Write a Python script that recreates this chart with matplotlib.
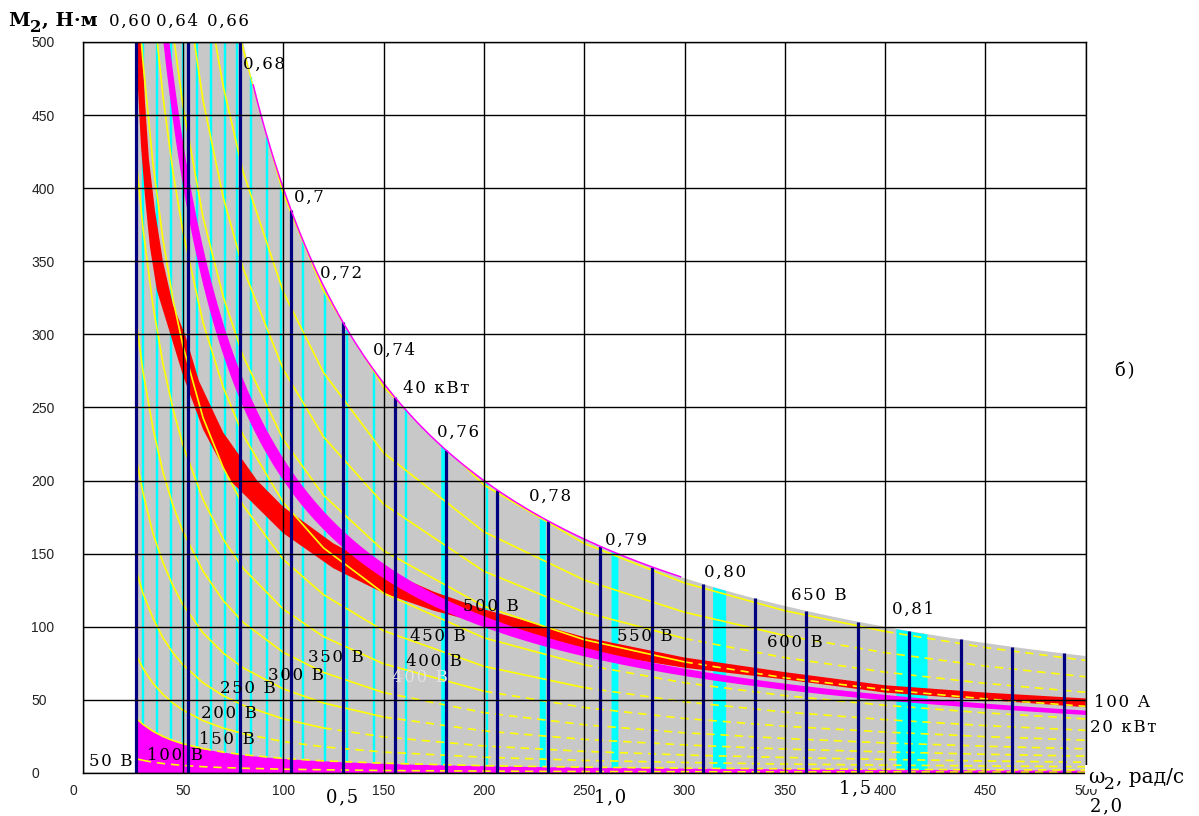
import numpy as np
import matplotlib
matplotlib.use("Agg")
import matplotlib.pyplot as plt
from matplotlib.patches import Polygon
from matplotlib.transforms import ScaledTranslation

# ---------------- data ----------------
omega_ticks = list(range(0, 501, 50))          # rad/s
torque_ticks = list(range(0, 501, 50))         # N*m

omega_min = 27.0        # left edge of the working zone, rad/s
p_limit_w = 40000.0     # 40 kW limit curve
p_band_lo_w = 20000.0   # 20 kW line (band)
p_band_hi_w = 21500.0
p_low_w = 1000.0        # low-power zone at the bottom

# constant-speed steps (navy)
speed_lines = [26.6, 52.5, 78.4, 103.8, 129.7, 155.7, 181.0, 206.5, 231.9, 257.9,
               283.8, 309.2, 335.1, 360.5, 386.4, 411.8, 437.7, 463.1, 489.0]

# constant-efficiency lines (cyan) and wide efficiency bands
eff_lines = [30, 37, 44, 50, 57, 64, 71, 77, 84, 92, 99, 110, 121, 132, 145, 161, 201.5]
eff_bands = [(178.5, 180.8), (227.6, 230.6), (263.4, 266.8), (314.0, 320.5), (405.4, 420.9)]
eff_labels = ["0,60", "0,64", "0,66", "0,68", "0,7", "0,72", "0,74", "0,76",
              "0,78", "0,79", "0,80", "0,81"]

# constant-voltage curves: torque (N*m) at the speeds of omega_grid
omega_grid = [27, 30, 35, 40, 45, 50, 60, 70, 80, 100, 120, 150, 200, 250, 300, 350, 400, 450, 500]
m_050v = [9.6, 8.7, 7.4, 6.5, 5.8, 5.2, 4.3, 3.7, 3.3, 2.6, 2.2, 1.7, 1.3, 1.0, 0.9, 0.7, 0.7, 0.6, 0.5]
m_100v = [37.0, 33.3, 28.6, 25.0, 22.2, 20.0, 16.7, 14.3, 12.5, 10.0, 8.3, 6.7, 5.0, 4.0, 3.3, 2.9, 2.5, 2.2, 2.0]
m_150v = [79.6, 71.7, 61.4, 53.8, 47.8, 43.0, 35.8, 30.7, 26.9, 21.5, 17.9, 14.3, 10.8, 8.6, 7.2, 6.1, 5.4, 4.8, 4.3]
m_200v = [137, 123, 106, 92.5, 82.2, 74.0, 61.7, 52.9, 46.3, 37.0, 30.8, 24.7, 18.5, 14.8, 12.3, 10.6, 9.3, 8.2, 7.4]
m_250v = [213, 192, 164, 144, 128, 115, 95.8, 82.1, 71.9, 57.5, 47.9, 38.3, 28.8, 23.0, 19.2, 16.4, 14.4, 12.8, 11.5]
m_300v = [306, 275, 236, 206, 183, 165, 138, 118, 103, 82.5, 68.8, 55.0, 41.3, 33.0, 27.5, 23.6, 20.6, 18.3, 16.5]
m_350v = [415, 373, 320, 280, 249, 224, 187, 160, 140, 112, 93.3, 74.7, 56.0, 44.8, 37.3, 32.0, 28.0, 24.9, 22.4]
m_400v = [541, 487, 417, 365, 324, 292, 243, 209, 183, 146, 122, 97.3, 73.0, 58.4, 48.7, 41.7, 36.5, 32.4, 29.2]
m_450v = [685, 617, 529, 463, 411, 370, 308, 264, 231, 185, 154, 123, 92.5, 74.0, 61.7, 52.9, 46.3, 41.1, 37.0]
m_500v = [844, 760, 651, 570, 507, 456, 380, 326, 285, 228, 190, 152, 114, 91.2, 76.0, 65.1, 57.0, 50.7, 45.6]
m_550v = [1022, 920, 789, 690, 613, 552, 460, 394, 345, 276, 230, 184, 138, 110, 92.0, 78.9, 69.0, 61.3, 55.2]
m_600v = [1219, 1097, 940, 823, 731, 658, 548, 470, 411, 329, 274, 219, 165, 132, 110, 94.0, 82.3, 73.1, 65.8]
m_650v = [1467, 1320, 1131, 990, 880, 792, 660, 566, 495, 396, 330, 264, 197, 157, 130, 111, 96.8, 85.8, 77.0]
volt_curves = [m_050v, m_100v, m_150v, m_200v, m_250v, m_300v, m_350v,
               m_400v, m_450v, m_500v, m_550v, m_600v, m_650v]
volt_labels = ["50 В", "100 В", "150 В", "200 В", "250 В", "300 В", "350 В",
               "400 В", "450 В", "500 В", "550 В", "600 В", "650 В"]

# 100 A band: upper and lower edges
i100_hi_w = [29.5, 31, 33, 36, 40, 45, 51, 58, 70, 87, 100, 125, 150, 175, 200, 250, 300, 350, 400, 450, 500]
i100_hi_m = [500, 460, 420, 385, 350, 320, 300, 268, 233, 200, 182, 157, 139, 124, 112, 93, 79, 69, 60, 55, 51]
i100_lo_w = [26.5, 27.5, 29, 31, 33.5, 37, 43.5, 50, 60, 73.5, 100, 125, 150, 175, 200, 250, 300, 350, 400, 450, 500]
i100_lo_m = [500, 470, 430, 395, 360, 330, 301, 272, 235, 200, 164, 140, 123, 111, 102, 83, 72, 64, 55, 50, 45]

# ---------------- layout ----------------
W_PX, H_PX = 1199, 816
AX_L, AX_R, AX_T, AX_B = 82.7, 1085.7, 42.0, 773.0

SERIF = ["DejaVu Serif", "DejaVu Sans"]
SANS = ["Liberation Sans", "DejaVu Sans"]

YELLOW = "#ffff00"
CYAN = "#00ffff"
NAVY = "#000080"
MAGENTA = "#ff00ff"
RED = "#ff0000"
GRAY = "#c8c8c8"


def spaced(s):
    return "\u200a".join(s)


fig = plt.figure(figsize=(W_PX / 100, H_PX / 100), dpi=100)
ax = fig.add_axes([AX_L / W_PX, 1 - AX_B / H_PX,
                   (AX_R - AX_L) / W_PX, (AX_B - AX_T) / H_PX])
ax.set_xlim(0, 500)
ax.set_ylim(0, 500)


def limit_top(w):
    return np.minimum(500.0, p_limit_w / np.asarray(w, dtype=float))


# working zone (grey)
w = np.linspace(omega_min, 500, 800)
top = limit_top(w)
zone = Polygon(np.column_stack([np.r_[w, w[::-1]], np.r_[top, np.zeros_like(w)]]),
               closed=True, fc=GRAY, ec="none", zorder=1)
ax.add_patch(zone)

# efficiency lines and bands
ax.vlines(eff_lines, 0, limit_top(eff_lines), colors=CYAN, lw=1.7, zorder=2)
for a, b in eff_bands:
    xx = np.linspace(a, b, 30)
    ax.fill_between(xx, 0, limit_top(xx), color=CYAN, lw=0, zorder=2)

# 100 A band
band = Polygon(np.column_stack([np.r_[i100_hi_w, i100_lo_w[::-1]],
                                np.r_[i100_hi_m, i100_lo_m[::-1]]]),
               closed=True, fc=RED, ec="none", zorder=3)
ax.add_patch(band)

# 20 kW band
wb = np.linspace(38, 500, 600)
ax.fill_between(wb, p_band_lo_w / wb, p_band_hi_w / wb, color=MAGENTA, lw=0, zorder=3.5)

# low-power zone at the bottom
wl = np.linspace(omega_min, 500, 600)
ax.fill_between(wl, 0, p_low_w / wl, color=MAGENTA, lw=0, zorder=3.5)

# constant-voltage curves: solid where steep, broken where flat
og = np.asarray(omega_grid, dtype=float)
for m in volt_curves:
    m = np.asarray(m, dtype=float)
    slope = np.abs(np.diff(m) / np.diff(og))
    flat = np.where(slope < 0.28)[0]
    k = flat[0] if len(flat) else len(og) - 1
    l1, = ax.plot(og[:k + 1], m[:k + 1], color=YELLOW, lw=1.2, zorder=4,
                  solid_capstyle="butt")
    l1.set_clip_path(zone)
    if k < len(og) - 1:
        l2, = ax.plot(og[k:], m[k:], color=YELLOW, lw=1.2, zorder=4,
                      dashes=(5, 3.5))
        l2.set_clip_path(zone)

# speed steps
ax.vlines(speed_lines, 0, limit_top(speed_lines), colors=NAVY, lw=2.3, zorder=5)

# 40 kW limit line
wm = np.linspace(85, 298, 300)
ax.plot(wm, p_limit_w / wm, color=MAGENTA, lw=1.1, zorder=5)

# grid on top
for v in omega_ticks:
    ax.axvline(v, color="black", lw=1.0, zorder=6)
for v in torque_ticks:
    ax.axhline(v, color="black", lw=1.0, zorder=6)

for s in ax.spines.values():
    s.set_color("black")
    s.set_linewidth(1.0)
    s.set_zorder(7)

ax.set_xticks(omega_ticks)
ax.set_yticks(torque_ticks)
ax.tick_params(length=0, labelsize=10, labelcolor="#222222")
ax.tick_params(axis="x", pad=8)
ax.tick_params(axis="y", pad=37)
for t in ax.get_xticklabels() + ax.get_yticklabels():
    t.set_fontfamily(SANS)
for t in ax.get_yticklabels():
    t.set_horizontalalignment("left")
# the zero of the speed scale sits a little to the left
x0 = ax.get_xticklabels()[0]
x0.set_transform(x0.get_transform() + ScaledTranslation(-7 / 72, 0, fig.dpi_scale_trans))

# ---------------- annotations ----------------
TXT = dict(family=SERIF, fontsize=12, ha="center", va="center", zorder=8,
           clip_on=False, color="black")

eff_label_pos = [(23.6, 514), (47, 514), (72.5, 514), (90.5, 485), (113, 394),
                 (129, 342), (155, 289), (187, 233), (233, 189), (271, 159),
                 (320, 137.5), (414, 112)]
for s, (x, y) in zip(eff_labels, eff_label_pos):
    ax.text(x, y, spaced(s), **TXT)

volt_label_pos = [(14, 8), (46, 12), (72, 22.6), (73, 41), (82.5, 58), (106.5, 67),
                  (126, 78.7), (175, 76), (177, 93.7), (203.5, 114), (280, 93.7),
                  (355, 89.6), (367, 121.7)]
ax.text(168, 65, spaced("400 В"), **{**TXT, "color": "#e2e2e2"})
for s, (x, y) in zip(volt_labels, volt_label_pos):
    ax.text(x, y, spaced(s), **TXT)

ax.text(176, 263, spaced("40 кВт"), **TXT)
ax.text(518, 47.9, spaced("100 А"), **TXT)
ax.text(518.6, 30.8, spaced("20 кВт"), **TXT)
ax.text(519.7, 275.6, spaced("б)"), **{**TXT, "fontsize": 13})

for s, (x, y) in zip(["0,5", "1,0", "1,5", "2,0"],
                     [(129.3, -16.4), (262.9, -16.4), (385, -10.3), (510, -22.6)]):
    ax.text(x, y, spaced(s), **{**TXT, "fontsize": 13})


# axis titles (with lowered index); the head may mask what lies beneath it
def titled(x, y, head, idx, tail, size, weight, mask=False):
    kw = dict(family=SERIF, fontweight=weight, ha="left", va="baseline",
              clip_on=False, zorder=9)
    box = dict(fc="white", ec="none", pad=2.0) if mask else None
    t1 = ax.text(x, y, head, fontsize=size, bbox=box, **kw)
    fig.canvas.draw()
    bb = t1.get_window_extent()
    inv = ax.transData.inverted()
    x1, _ = inv.transform((bb.x1, bb.y0))
    ybase = ax.transData.transform((0, y))[1]
    _, ysub = inv.transform((0, ybase - size * 0.45))
    t2 = ax.text(x1, ysub, idx, fontsize=size * 0.85, **kw)
    fig.canvas.draw()
    bb2 = t2.get_window_extent()
    x2, _ = inv.transform((bb2.x1 + 1, bb2.y0))
    ax.text(x2, y, tail, fontsize=size, **kw)


titled(-37.2, 511, "M", "2", ", Н·м", 14, "bold")
titled(501.0, -6.5, "ω", "2", ", рад/с", 14.5, "normal", mask=True)

fig.savefig("out.png", dpi=100, facecolor="white")
